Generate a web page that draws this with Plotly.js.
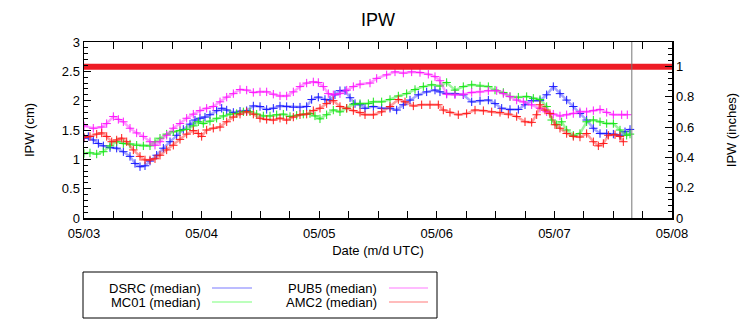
<!DOCTYPE html>
<html><head><meta charset="utf-8">
<script src="https://cdn.plot.ly/plotly-3.0.1.min.js"></script>
<style>html,body{margin:0;padding:0;background:#fff}#chart{width:756px;height:324px}</style>
</head><body><div id="chart"></div>
<script>
// ---- data (hours since 05/03 00:00 UTC, IPW in cm) ----
const seriesNames = ['DSRC (median)', 'MC01 (median)', 'PUB5 (median)', 'AMC2 (median)'];
const seriesColors = ['#1a1aff', '#19e619', '#ff19ff', '#ff1a1a'];
const haloColors = ['rgba(60,60,255,0.45)', 'rgba(40,230,40,0.45)', 'rgba(255,40,255,0.45)', 'rgba(255,40,40,0.45)'];
const legendColors = ['#a6a6ff', '#a6ffa6', '#ffa6ff', '#ffa6a6'];

const dsrcHours = [0,0.88,1.9,2.93,3.95,5.31,6.67,8.03,9.39,10.41,11.43,12.45,13.47,14.83,16.19,17.55,18.91,20.27,21.63,22.65,23.67,24.69,25.71,27.07,28.1,29.12,30.48,31.84,33.2,34.56,35.92,37.28,38.64,40,41.36,42.72,44.08,45.44,46.46,47.82,49.18,50.2,51.22,52.24,53.27,54.29,55.31,56.33,57.35,59.05,60.75,62.45,63.81,65.17,66.53,68.23,69.93,71.63,72.65,74.01,75.71,77.41,79.12,80.82,82.52,83.88,85.24,86.94,88.64,90,91.36,93.06,94.42,95.78,97.14,98.5,99.86,101.22,102.58,103.95,105.31,106.67,108.03,109.39,110.41,111.43];
const dsrcCm = [1.36,1.39,1.33,1.27,1.23,1.2,1.19,1.13,1.05,0.93,0.875,0.89,0.97,1.07,1.19,1.3,1.41,1.51,1.6,1.67,1.7,1.72,1.76,1.83,1.87,1.84,1.8,1.82,1.83,1.91,1.9,1.85,1.87,1.91,1.9,1.89,1.89,1.9,2.02,2.06,2.02,2.01,2.1,2.17,2.17,2.05,1.95,1.93,1.87,1.9,1.87,1.87,1.84,1.93,2.01,2.1,2.15,2.18,2.15,2.12,2.12,2.1,1.98,2,2.01,1.95,1.87,1.85,1.85,1.93,2,2,2.1,2.24,2.12,2.01,1.9,1.78,1.67,1.53,1.44,1.44,1.43,1.41,1.47,1.51];

const mc01Hours = [0,1.22,2.59,3.95,5.31,6.67,8.03,9.39,10.75,12.11,13.47,14.49,15.51,16.87,18.23,19.59,20.95,22.31,23.33,24.35,25.71,27.07,28.44,29.8,31.16,32.52,33.88,35.24,36.6,37.96,39.32,40.68,42.04,43.4,44.76,46.12,47.14,48.16,49.52,50.88,52.24,53.61,54.97,56.33,58.03,59.05,60.75,62.45,64.15,65.85,67.55,69.25,70.95,72.65,74.01,75.71,77.41,79.12,80.82,82.52,83.88,85.58,86.94,88.64,90.34,91.7,93.06,94.42,95.44,96.46,97.48,98.5,99.86,101.22,102.58,103.95,105.31,106.67,108.03,109.39,110.75,111.43];
const mc01Cm = [1.1,1.11,1.09,1.13,1.23,1.3,1.27,1.26,1.24,1.23,1.23,1.3,1.36,1.43,1.47,1.49,1.51,1.57,1.64,1.61,1.65,1.7,1.74,1.77,1.78,1.81,1.81,1.77,1.74,1.74,1.76,1.77,1.73,1.75,1.77,1.78,1.74,1.69,1.76,1.84,1.81,1.87,1.94,1.95,1.95,1.98,1.98,2.02,2.08,2.12,2.19,2.24,2.27,2.25,2.31,2.18,2.24,2.27,2.25,2.24,2.18,2.14,2.07,2.06,2.07,2.04,2.02,1.9,1.67,1.59,1.64,1.5,1.41,1.44,1.64,1.67,1.64,1.61,1.61,1.5,1.41,1.43];

const pub5Hours = [0,1.9,3.61,4.63,5.99,7.01,8.03,9.39,10.75,12.11,13.47,14.49,15.51,16.87,18.23,19.59,20.95,22.31,23.67,25.03,26.39,27.76,29.12,30.48,31.84,33.2,34.56,35.92,37.28,38.64,40,41.36,42.72,44.08,45.44,46.8,47.82,48.84,49.86,50.88,52.24,53.61,54.97,56.33,58.37,59.73,61.77,63.47,65.17,66.87,68.57,70.27,71.63,72.65,74.01,75.71,77.41,79.12,80.82,82.52,84.22,85.58,86.94,88.3,89.66,91.36,93.06,94.42,95.78,97.14,98.5,99.86,101.22,102.58,103.95,105.31,106.67,108.03,109.73,110.88];
const pub5Cm = [1.57,1.53,1.55,1.61,1.73,1.68,1.64,1.53,1.45,1.39,1.3,1.24,1.3,1.41,1.53,1.61,1.7,1.77,1.83,1.87,1.9,1.98,2.06,2.12,2.19,2.18,2.14,2.15,2.15,2.11,2.08,2.08,2.15,2.24,2.3,2.32,2.31,2.24,2.12,2.1,2.12,2.18,2.24,2.28,2.3,2.38,2.44,2.49,2.47,2.49,2.48,2.45,2.41,2.34,2.11,2.1,2.11,2.14,2.15,2.17,2.17,2.12,2.07,2.01,1.98,1.93,1.87,1.81,1.77,1.74,1.76,1.78,1.81,1.81,1.83,1.85,1.8,1.76,1.76,1.76];

const amc2Hours = [0,1.22,2.59,3.61,4.63,5.65,6.67,7.69,8.71,10.07,11.43,12.45,13.47,14.49,15.51,16.87,18.23,19.59,20.95,22.31,23.33,24.01,25.03,26.39,27.76,29.12,30.48,31.84,33.2,34.56,35.92,37.28,38.64,40,41.36,42.72,44.08,45.44,46.8,48.16,49.52,50.88,52.24,53.61,54.97,56.33,57.35,59.05,60.75,62.45,64.15,65.51,67.21,68.91,70.61,72.31,73.33,74.69,76.39,78.09,79.8,81.5,83.2,84.9,86.6,88.3,90,91.36,92.38,93.06,94.08,95.1,96.12,97.14,98.5,99.86,101.22,102.58,103.95,104.97,105.99,107.01,108.37,109.39,110.07];
const amc2Cm = [1.375,1.39,1.43,1.45,1.39,1.3,1.33,1.36,1.3,1.16,1.05,0.99,0.99,1.01,1.07,1.16,1.24,1.34,1.43,1.49,1.44,1.39,1.5,1.53,1.55,1.64,1.72,1.77,1.81,1.77,1.7,1.68,1.67,1.7,1.67,1.72,1.76,1.77,1.83,1.87,1.95,2,1.9,1.87,1.83,1.8,1.76,1.76,1.81,1.9,2.02,1.98,1.91,1.93,1.93,1.93,1.84,1.8,1.76,1.78,1.84,1.83,1.81,1.8,1.77,1.73,1.64,1.63,1.76,1.93,1.84,1.78,1.59,1.53,1.44,1.39,1.38,1.44,1.3,1.23,1.27,1.41,1.42,1.39,1.3];

const xRangeDates = ['2024-05-03', '2024-05-08'];
const thresholdInches = 1;
const cmPerInch = 2.58;
const nowHours = 111.8;

// ---- build ----
const t0 = Date.UTC(2024, 4, 3);
const toMs = h => t0 + h * 3600000;
const hoursList = [dsrcHours, mc01Hours, pub5Hours, amc2Hours];
const cmList = [dsrcCm, mc01Cm, pub5Cm, amc2Cm];

const traces = seriesNames.map((name, i) => ({
  type: 'scatter', mode: 'lines+markers', name: name,
  x: hoursList[i].map(toMs), y: cmList[i],
  line: {color: haloColors[i], width: 2.5},
  marker: {symbol: 'cross-thin', size: 6, color: seriesColors[i], line: {color: seriesColors[i], width: 1}},
  hoverinfo: 'x+y'
}));
traces.push({
  type: 'scatter', mode: 'lines', name: '1 inch',
  x: xRangeDates, y: [thresholdInches, thresholdInches], yaxis: 'y2',
  line: {color: '#ee1c25', width: 6}, hoverinfo: 'skip', showlegend: false
});

const W = 756, H = 324;
const M = {l: 84, r: 84, t: 42, b: 106};
const pw = W - M.l - M.r, ph = H - M.t - M.b;
const px = x => (x - M.l) / pw;
const py = y => (H - M.b - y) / ph;

const shapes = [
  {type: 'line', xref: 'x', yref: 'paper', x0: toMs(nowHours), x1: toMs(nowHours), y0: 0, y1: 1,
   line: {color: '#777', width: 1}},
  {type: 'rect', xref: 'paper', yref: 'paper', x0: px(83), x1: px(437), y0: py(318), y1: py(272),
   line: {color: '#000', width: 1}, fillcolor: 'rgba(0,0,0,0)'}
];
const annotations = [];
const legRows = [288, 302];
const legTextRight = [203, 379];
const legLine = [[212, 252], [389, 428]];
seriesNames.forEach((n, i) => {
  const col = Math.floor(i / 2), row = i % 2;
  annotations.push({xref: 'paper', yref: 'paper', x: px(legTextRight[col]), y: py(legRows[row]),
    xanchor: 'right', yanchor: 'middle', text: n, showarrow: false, font: {size: 13, color: '#000'}});
  shapes.push({type: 'line', xref: 'paper', yref: 'paper', x0: px(legLine[col][0]), x1: px(legLine[col][1]),
    y0: py(legRows[row]), y1: py(legRows[row]), line: {color: legendColors[i], width: 1.5}});
});

const axisCommon = {showline: true, linecolor: '#000', linewidth: 1.5, showgrid: false, zeroline: false,
  ticks: 'inside', ticklen: 7, tickwidth: 1, tickcolor: '#000', tickfont: {size: 13, color: '#000'}};

const layout = {
  width: W, height: H, margin: M, showlegend: false,
  paper_bgcolor: '#fff', plot_bgcolor: '#fff',
  font: {family: 'Liberation Sans, Arial, sans-serif', size: 13, color: '#000'},
  title: {text: 'IPW', font: {size: 18, color: '#000'}, x: 0.5, xref: 'paper', xanchor: 'center',
    y: 1 - 20 / H, yref: 'container', yanchor: 'middle'},
  xaxis: Object.assign({}, axisCommon, {type: 'date', range: xRangeDates, tick0: xRangeDates[0],
    dtick: 86400000, tickformat: '%m/%d', mirror: 'allticks', ticklabelstandoff: 3,
    minor: {dtick: 21600000, ticks: 'inside', ticklen: 4, tickcolor: '#000'},
    title: {text: 'Date (m/d UTC)', font: {size: 13}, standoff: 6}}),
  yaxis: Object.assign({}, axisCommon, {range: [0, 3], dtick: 0.5, tick0: 0,
    minor: {dtick: 0.1, ticks: 'inside', ticklen: 4, tickcolor: '#000'},
    title: {text: 'IPW (cm)', font: {size: 13}, standoff: 24}}),
  yaxis2: Object.assign({}, axisCommon, {overlaying: 'y', side: 'right', range: [0, 3 / cmPerInch],
    dtick: 0.2, tick0: 0,
    minor: {dtick: 0.04, ticks: 'inside', ticklen: 4, tickcolor: '#000'},
    title: {text: 'IPW (inches)', font: {size: 13}, standoff: 33}}),
  shapes: shapes, annotations: annotations
};

Plotly.newPlot('chart', traces, layout, {displayModeBar: false, staticPlot: true});
</script>
</body></html>
